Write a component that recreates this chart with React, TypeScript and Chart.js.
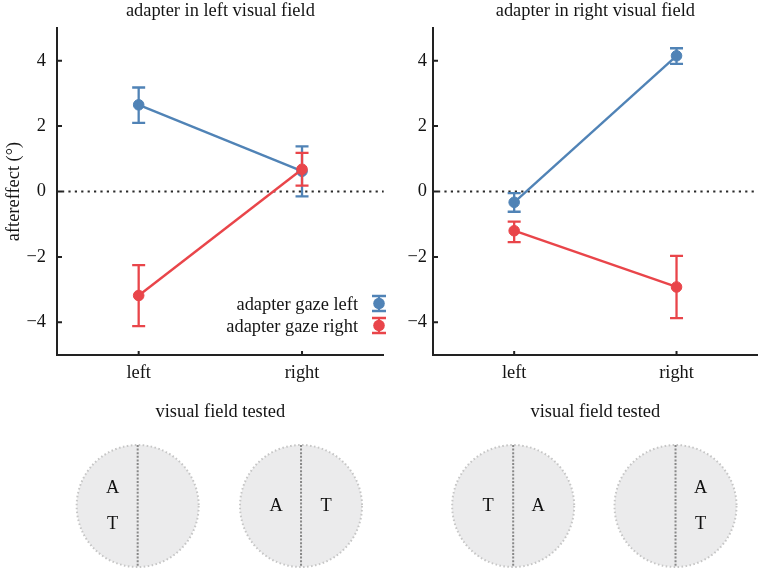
import React, { useEffect, useRef } from "react";
import { Chart, registerables } from "chart.js";

Chart.register(...registerables);

// ---------- data ----------
const categories = ["left", "right"];
const yTickValues = [-4, -2, 0, 2, 4];
const seriesLabels = ["adapter gaze left", "adapter gaze right"];
const seriesColors = ["#5083b6", "#e9454a"];
const panelTitles = ["adapter in left visual field", "adapter in right visual field"];
const adapterSides = ["left", "right"];
const yAxisTitle = "aftereffect (°)";
const xAxisTitle = "visual field tested";

// adapter in left visual field
const leftFieldGazeLeft = [2.65, 0.62];
const leftFieldGazeLeftLow = [2.1, -0.15];
const leftFieldGazeLeftHigh = [3.18, 1.38];
const leftFieldGazeRight = [-3.18, 0.68];
const leftFieldGazeRightLow = [-4.12, 0.18];
const leftFieldGazeRightHigh = [-2.25, 1.18];

// adapter in right visual field
const rightFieldGazeLeft = [-0.33, 4.15];
const rightFieldGazeLeftLow = [-0.62, 3.9];
const rightFieldGazeLeftHigh = [-0.05, 4.38];
const rightFieldGazeRight = [-1.2, -2.92];
const rightFieldGazeRightLow = [-1.55, -3.87];
const rightFieldGazeRightHigh = [-0.92, -1.97];

const FONT = "'Liberation Serif', 'DejaVu Serif', 'Times New Roman', serif";
const TEXT = "#141414";
const AXIS = "#222222";
const H = 572;
const FS = 18.4;

const decorPlugin = {
  id: "decor",
  beforeDatasetsDraw(chart: any) {
    const { ctx, chartArea: ca } = chart;
    const y0 = chart.scales.y.getPixelForValue(0);
    ctx.save();
    ctx.strokeStyle = "#2a2a2a";
    ctx.lineWidth = 2.2;
    ctx.setLineDash([2.2, 4.2]);
    ctx.beginPath();
    ctx.moveTo(ca.left + 5, y0);
    ctx.lineTo(ca.right, y0);
    ctx.stroke();
    ctx.restore();
  },
  afterDatasetDraw(chart: any, args: any) {
    const ds = chart.data.datasets[args.index];
    const ys = chart.scales.y;
    const { ctx } = chart;
    ctx.save();
    ctx.strokeStyle = ds.borderColor;
    ctx.lineWidth = 2.3;
    ctx.setLineDash([]);
    args.meta.data.forEach((pt: any, i: number) => {
      const x = pt.x;
      const yl = ys.getPixelForValue(ds.errLow[i]);
      const yh = ys.getPixelForValue(ds.errHigh[i]);
      ctx.beginPath();
      ctx.moveTo(x, yl);
      ctx.lineTo(x, yh);
      ctx.moveTo(x - 6.5, yl);
      ctx.lineTo(x + 6.5, yl);
      ctx.moveTo(x - 6.5, yh);
      ctx.lineTo(x + 6.5, yh);
      ctx.stroke();
    });
    ctx.restore();
  },
  afterDraw(chart: any, _a: any, opts: any) {
    const { ctx, chartArea: ca } = chart;
    const xs = chart.scales.x;
    const ys = chart.scales.y;
    ctx.save();
    // inward ticks
    ctx.strokeStyle = AXIS;
    ctx.lineWidth = 2;
    ctx.setLineDash([]);
    ctx.beginPath();
    yTickValues.forEach((v) => {
      const py = ys.getPixelForValue(v);
      ctx.moveTo(ca.left, py);
      ctx.lineTo(ca.left + 5, py);
    });
    categories.forEach((_c, i) => {
      const px = xs.getPixelForValue(i);
      ctx.moveTo(px, ca.bottom);
      ctx.lineTo(px, ca.bottom - 4);
    });
    ctx.stroke();

    // title
    ctx.fillStyle = TEXT;
    ctx.font = `${FS}px ${FONT}`;
    ctx.textAlign = "center";
    ctx.textBaseline = "middle";
    ctx.fillText(opts.title, (ca.left + ca.right) / 2, opts.titleY);

    // legend
    if (opts.legend) {
      chart.data.datasets.forEach((ds: any, i: number) => {
        const ly = opts.legendY[i];
        ctx.fillStyle = TEXT;
        ctx.textAlign = "right";
        ctx.fillText(ds.label, opts.legendTextX, ly);
        const sx = opts.legendSymbolX;
        const sy = ly - 1.5;
        ctx.strokeStyle = ds.borderColor;
        ctx.lineWidth = 2.3;
        ctx.beginPath();
        ctx.moveTo(sx, sy - 7.5);
        ctx.lineTo(sx, sy + 7.5);
        ctx.moveTo(sx - 7, sy - 7.5);
        ctx.lineTo(sx + 7, sy - 7.5);
        ctx.moveTo(sx - 7, sy + 7.5);
        ctx.lineTo(sx + 7, sy + 7.5);
        ctx.stroke();
        ctx.fillStyle = ds.borderColor;
        ctx.beginPath();
        ctx.arc(sx, sy, 5.8, 0, Math.PI * 2);
        ctx.fill();
      });
    }

    // visual field diagrams
    const side = opts.adapterSide;
    const sA = side === "left" ? -1 : 1;
    categories.forEach((cat, i) => {
      const cx = xs.getPixelForValue(i) - 1;
      const cy = opts.circleY;
      const r = opts.circleR;
      ctx.setLineDash([]);
      ctx.fillStyle = "#ebebec";
      ctx.beginPath();
      ctx.arc(cx, cy, r, 0, Math.PI * 2);
      ctx.fill();
      ctx.strokeStyle = "#c6c6c6";
      ctx.lineWidth = 2;
      ctx.setLineDash([1.6, 2.4]);
      ctx.beginPath();
      ctx.arc(cx, cy, r, 0, Math.PI * 2);
      ctx.stroke();
      ctx.strokeStyle = "#888888";
      ctx.setLineDash([2, 1.6]);
      ctx.beginPath();
      ctx.moveTo(cx, cy - r);
      ctx.lineTo(cx, cy + r);
      ctx.stroke();
      ctx.fillStyle = "#111";
      ctx.textAlign = "center";
      ctx.textBaseline = "middle";
      const dx = 25;
      if (cat === side) {
        ctx.fillText("A", cx + sA * dx, cy - 18);
        ctx.fillText("T", cx + sA * dx, cy + 18);
      } else {
        const sT = cat === "left" ? -1 : 1;
        ctx.fillText("A", cx + sA * dx, cy);
        ctx.fillText("T", cx + sT * dx, cy);
      }
    });
    ctx.restore();
  },
};

function fmtTick(v: number) {
  return v < 0 ? "\u2212" + Math.abs(v) : String(v);
}

function makeConfig(p: number) {
  const isLeft = p === 0;
  const g = isLeft
    ? [leftFieldGazeLeft, leftFieldGazeLeftLow, leftFieldGazeLeftHigh, leftFieldGazeRight, leftFieldGazeRightLow, leftFieldGazeRightHigh]
    : [rightFieldGazeLeft, rightFieldGazeLeftLow, rightFieldGazeLeftHigh, rightFieldGazeRight, rightFieldGazeRightLow, rightFieldGazeRightHigh];
  const mk = (i: number, data: number[], lo: number[], hi: number[]) => ({
    label: seriesLabels[i],
    data,
    errLow: lo,
    errHigh: hi,
    borderColor: seriesColors[i],
    backgroundColor: seriesColors[i],
    pointBackgroundColor: seriesColors[i],
    pointBorderColor: seriesColors[i],
    pointRadius: 5.3,
    pointHoverRadius: 5.3,
    pointBorderWidth: 1,
    borderWidth: 2.4,
    tension: 0,
    order: i === 0 ? 1 : 0,
  });
  const font = { family: FONT, size: FS };
  return {
    type: "line",
    data: {
      labels: categories,
      datasets: [mk(0, g[0], g[1], g[2]), mk(1, g[3], g[4], g[5])],
    },
    options: {
      responsive: false,
      animation: false,
      events: [],
      layout: { padding: { top: 28, left: 0, right: isLeft ? 5 : 3, bottom: 0 } },
      font,
      plugins: {
        legend: { display: false },
        tooltip: { enabled: false },
        decor: {
          title: panelTitles[p],
          titleY: 11,
          legend: isLeft,
          legendY: [305, 327],
          legendTextX: 358,
          legendSymbolX: 379,
          adapterSide: adapterSides[p],
          circleY: 506,
          circleR: 61,
        },
      },
      scales: {
        x: {
          type: "category",
          offset: true,
          grid: { display: false, drawTicks: false },
          border: { display: true, color: AXIS, width: 2 },
          ticks: { padding: 7, color: TEXT, font },
          title: {
            display: true,
            text: xAxisTitle,
            color: TEXT,
            font,
            padding: { top: 0, bottom: 149 },
          },
          afterFit: (s: any) => {
            s.height = H - 355;
          },
        },
        y: {
          min: -5,
          max: 5,
          afterBuildTicks: (s: any) => {
            s.ticks = yTickValues.map((v) => ({ value: v }));
          },
          grid: { display: false, drawTicks: false },
          border: { display: true, color: AXIS, width: 2 },
          ticks: {
            padding: isLeft ? 11 : 6,
            color: TEXT,
            font,
            callback: (v: any) => fmtTick(Number(v)),
          },
          title: {
            display: isLeft,
            text: yAxisTitle,
            color: TEXT,
            font,
            padding: { top: 3, bottom: 0 },
          },
          afterFit: (s: any) => {
            s.width = isLeft ? 57 : 43;
          },
        },
      },
    },
    plugins: [decorPlugin],
  };
}

function Panel({ index, left, width }: { index: number; left: number; width: number }) {
  const ref = useRef<HTMLCanvasElement | null>(null);
  useEffect(() => {
    if (!ref.current) return;
    const chart = new Chart(ref.current, makeConfig(index) as any);
    return () => chart.destroy();
  }, [index]);
  return (
    <canvas
      ref={ref}
      width={width}
      height={H}
      style={{ position: "absolute", left, top: 0, width, height: H }}
    />
  );
}

export default function App() {
  return (
    <div style={{ position: "absolute", left: 0, top: 0, width: 764, height: H, background: "#ffffff" }}>
      <Panel index={0} left={0} width={390} />
      <Panel index={1} left={390} width={374} />
    </div>
  );
}
